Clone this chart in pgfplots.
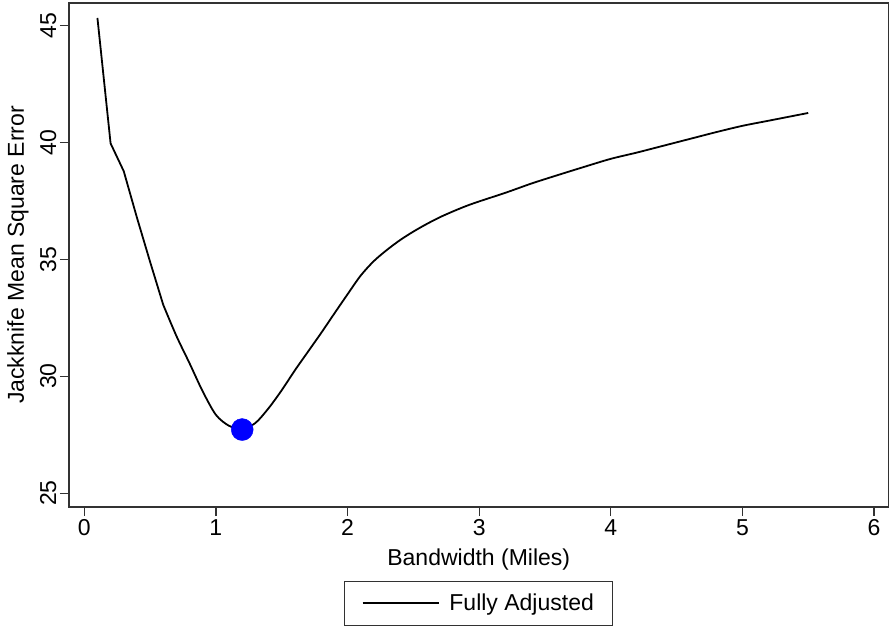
\documentclass[border=0pt]{standalone}
\usepackage{fontspec}
\setmainfont{Liberation Sans}
\usepackage{pgfplots}
\pgfplotsset{compat=1.18}
\definecolor{framegray}{RGB}{50,50,50}
\begin{document}
\begin{tikzpicture}
\begin{axis}[
  scale only axis,
  width=819.5pt, height=504pt,
  at={(0,0)}, anchor=south west,
  xmin=-0.116, xmax=6.11,
  ymin=24.41, ymax=45.95,
  xtick={0,1,2,3,4,5,6},
  ytick={25,30,35,40,45},
  tick pos=left,
  tick align=outside,
  major tick length=9pt,
  every tick/.style={framegray, line width=1.3pt},
  axis line style={framegray, line width=1.3pt},
  /pgf/number format/assume math mode=true,
  tick label style={font=\fontsize{23}{27}\selectfont},
  label style={font=\fontsize{23}{27}\selectfont},
  yticklabel style={rotate=90, anchor=south},
  xticklabel style={anchor=north},
  xlabel={Bandwidth (Miles)},
  ylabel={Jackknife Mean Square Error},
  xlabel style={at={(axis description cs:0.5,-0.117)}, anchor=base},
  ylabel style={at={(axis description cs:-0.045,0.5)}, anchor=south, rotate=0},
  legend style={at={(axis description cs:0.5,-0.146)}, anchor=north,
    draw=framegray, line width=1pt, font=\fontsize{23}{27}\selectfont,
    inner xsep=17pt, inner ysep=11pt},
  legend image code/.code={\draw[#1] (0pt,0pt) -- (76pt,0pt); \path (84pt,0pt);},
  clip=false,
]
\addplot[black, line width=1.8pt, mark=none] coordinates {
(0.1,45.31) (0.2,39.95) (0.3,38.76) (0.4,36.78) (0.5,34.89) (0.6,33.05)
};
\addlegendentry{Fully Adjusted}
\addplot[forget plot, black, line width=1.8pt, mark=none, smooth, tension=0.5] coordinates {
(0.6,33.05)
(0.7,31.72) (0.8,30.55) (0.9,29.35) (1.0,28.35) (1.1,27.88) (1.2,27.75)
(1.3,28.00) (1.4,28.63) (1.5,29.40) (1.6,30.25) (1.7,31.05) (1.8,31.85)
(1.9,32.68) (2.0,33.50) (2.1,34.30) (2.2,34.92) (2.3,35.40) (2.4,35.82)
(2.5,36.18) (2.6,36.50) (2.7,36.79) (2.8,37.04) (2.9,37.27) (3.0,37.47)
(3.2,37.84) (3.4,38.24) (3.6,38.60) (3.8,38.95) (4.0,39.29) (4.2,39.56)
(4.4,39.85) (4.6,40.14) (4.8,40.43) (5.0,40.70) (5.2,40.92) (5.5,41.25)
};
\addplot[forget plot, only marks, mark=*, mark size=11pt, color=blue, mark options={fill=blue, draw=blue}] coordinates {(1.2,27.72)};
\end{axis}
\pgfresetboundingbox
\path[use as bounding box] (-69pt,-122pt) rectangle (822pt,507pt);
\end{tikzpicture}
\end{document}
